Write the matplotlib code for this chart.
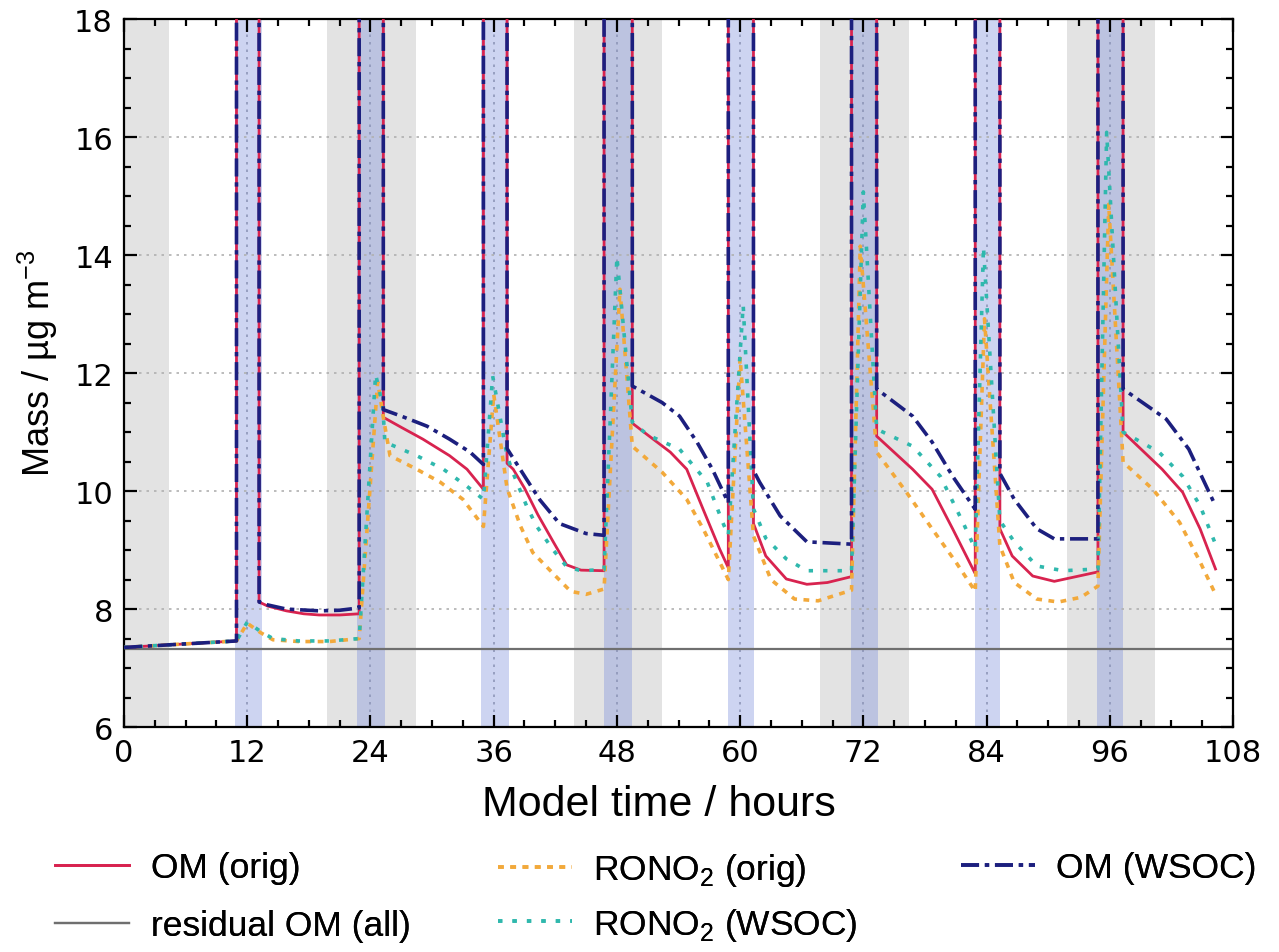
"""Organic mass time series with photolysis / night shading (recreated figure)."""
import matplotlib

matplotlib.use("Agg")
import matplotlib.pyplot as plt
from matplotlib.ticker import MultipleLocator

# ---------------------------------------------------------------------------
# Data. OFF = value beyond the top of the axis
# (the vertical spikes that leave the plot during each event).
# ---------------------------------------------------------------------------
OFF = 40.0

T_OM_ORIG = [0, 10.95, 10.95, 13.15, 13.15, 14.0, 15.8, 17.5, 19.0, 21.0, 22.9,
             22.9, 25.25, 25.25, 27.0, 29.1, 31.7, 33.4, 35.0,
             35.0, 37.3, 37.3, 37.9, 39.0, 40.3, 41.8, 43.1, 44.5, 46.75,
             46.75, 49.5, 49.5, 51.0, 53.2, 54.8, 56.4, 58.0, 58.85,
             58.85, 61.3, 61.3, 62.5, 64.5, 66.5, 68.5, 70.85,
             70.85, 73.3, 73.3, 76.8, 78.7, 80.7, 82.9,
             82.9, 85.3, 85.3, 86.5, 88.5, 90.6, 94.85,
             94.85, 97.3, 97.3, 101.1, 103.1, 104.8, 106.3]
OM_ORIG = [7.35, 7.46, OFF, OFF, 8.12, 8.05, 7.97, 7.92, 7.9, 7.9, 7.92,
           OFF, OFF, 11.25, 11.08, 10.88, 10.6, 10.37, 10.03,
           OFF, OFF, 10.47, 10.37, 10.05, 9.6, 9.14, 8.75, 8.66, 8.65,
           OFF, OFF, 11.15, 10.95, 10.66, 10.37, 9.69, 9.02, 8.7,
           OFF, OFF, 9.45, 8.9, 8.51, 8.42, 8.45, 8.55,
           OFF, OFF, 10.93, 10.37, 10.03, 9.36, 8.6,
           OFF, OFF, 9.36, 8.9, 8.56, 8.47, 8.63,
           OFF, OFF, 11.0, 10.37, 9.98, 9.36, 8.68]

T_OM_WSOC = [0, 10.95, 10.95, 13.15, 13.15, 14.0, 15.8, 19.0, 21.0, 22.9,
             22.9, 25.25, 25.25, 27.0, 29.5, 31.7, 33.7, 35.0,
             35.0, 37.3, 37.3, 39.2, 40.5, 42.4, 45.0, 46.75,
             46.75, 49.5, 49.5, 52.4, 54.1, 55.8, 57.3, 58.85,
             58.85, 61.3, 61.3, 61.9, 63.9, 66.5, 70.85,
             70.85, 73.3, 73.3, 76.8, 78.7, 80.7, 82.9,
             82.9, 85.3, 85.3, 86.7, 88.9, 90.6, 94.85,
             94.85, 97.3, 97.3, 101.5, 103.7, 106.3]
OM_WSOC = [7.35, 7.46, OFF, OFF, 8.12, 8.07, 8.0, 7.97, 7.98, 8.02,
           OFF, OFF, 11.38, 11.27, 11.1, 10.88, 10.66, 10.45,
           OFF, OFF, 10.72, 10.2, 9.85, 9.45, 9.28, 9.25,
           OFF, OFF, 11.78, 11.5, 11.27, 10.83, 10.37, 9.8,
           OFF, OFF, 10.35, 10.15, 9.58, 9.14, 9.1,
           OFF, OFF, 11.73, 11.27, 10.83, 10.25, 9.69,
           OFF, OFF, 10.3, 9.86, 9.36, 9.19, 9.19,
           OFF, OFF, 11.73, 11.22, 10.71, 9.75]

T_RONO2_ORIG = [0, 10.95, 12.0, 13.3, 14.5, 17.0, 20.0, 22.9,
                24.7, 25.3, 25.9, 28.5, 30.8, 33.0, 35.0,
                36.0, 37.3, 38.6, 39.8, 41.8, 43.5, 45.0, 46.75,
                48.3, 49.5, 52.4, 54.8, 56.4, 58.0, 58.85,
                60.0, 61.3, 63.0, 65.3, 67.6, 70.85,
                71.7, 73.3, 76.2, 78.7, 81.0, 82.9,
                83.8, 85.3, 86.7, 88.9, 91.0, 93.2, 94.85,
                95.9, 97.3, 100.2, 102.8, 104.8, 106.3]
RONO2_ORIG = [7.35, 7.46, 7.76, 7.6, 7.48, 7.45, 7.45, 7.5,
              11.85, 11.2, 10.6, 10.37, 10.15, 9.86, 9.4,
              11.64, 10.05, 9.41, 8.96, 8.6, 8.3, 8.25, 8.34,
              13.42, 10.76, 10.32, 9.86, 9.36, 8.8, 8.5,
              12.25, 9.24, 8.5, 8.17, 8.14, 8.32,
              14.15, 10.66, 9.98, 9.36, 8.8, 8.3,
              12.92, 9.07, 8.45, 8.17, 8.12, 8.2, 8.39,
              14.86, 10.49, 10.03, 9.47, 8.8, 8.25]

T_RONO2_WSOC = [0, 10.95, 12.0, 13.3, 14.5, 17.0, 20.0, 22.9,
                24.5, 25.2, 25.4, 28.5, 31.1, 33.4, 35.0,
                35.9, 37.3, 37.9, 39.2, 40.2, 41.8, 43.1, 44.5, 46.75,
                48.0, 49.5, 51.0, 54.1, 56.8, 58.3, 58.85,
                60.3, 61.3, 62.5, 64.5, 66.5, 70.85,
                72.0, 73.3, 76.8, 79.5, 81.7, 82.9,
                83.7, 85.3, 86.7, 88.9, 91.5, 94.85,
                95.7, 97.3, 100.8, 103.1, 104.8, 106.3]
RONO2_WSOC = [7.35, 7.46, 7.78, 7.62, 7.5, 7.46, 7.46, 7.5,
              11.98, 11.45, 10.83, 10.6, 10.37, 10.08, 9.86,
              11.95, 10.6, 10.3, 9.75, 9.4, 9.0, 8.72, 8.65, 8.67,
              13.97, 11.17, 10.95, 10.71, 10.15, 9.47, 9.25,
              13.15, 9.7, 9.2, 8.85, 8.65, 8.65,
              15.07, 11.05, 10.76, 10.25, 9.47, 9.02,
              14.14, 9.5, 9.14, 8.73, 8.65, 8.68,
              16.08, 11.0, 10.66, 10.25, 9.75, 9.1]

T_RESIDUAL = [0, 108]
RESIDUAL = [7.33, 7.33]

# shaded periods (hours)
NIGHT_SPANS = [(0, 4.4), (19.8, 28.4), (43.8, 52.4), (67.8, 76.4), (91.8, 100.4)]
EVENT_SPANS = [(10.8, 13.4), (22.7, 25.4), (34.8, 37.5), (46.7, 49.5),
               (58.8, 61.4), (70.8, 73.4), (82.9, 85.3), (94.8, 97.3)]
EVENT_CENTRES = [12, 24, 36, 48, 60, 72, 84, 96]

X_TICKS = list(range(0, 109, 12))
Y_TICKS = list(range(6, 19, 2))

COLOR_OM_ORIG = "#d8234f"
COLOR_RESIDUAL = "#6f6f6f"
COLOR_RONO2_ORIG = "#f2a93b"
COLOR_RONO2_WSOC = "#2fb8ad"
COLOR_OM_WSOC = "#1c1f7e"

LABEL_FONT = "Liberation Sans"
TICK_FONT = "DejaVu Sans"

fig = plt.figure(figsize=(12.79, 9.53), dpi=100)
ax = fig.add_axes([0.097, 0.236, 0.867, 0.743])

for a, b in NIGHT_SPANS:
    ax.axvspan(a, b, color="#e3e3e3", lw=0, zorder=0)
for a, b in EVENT_SPANS:
    ax.axvspan(a, b, color="#7d8fdc", alpha=0.38, lw=0, zorder=0.5)
for c in EVENT_CENTRES:
    ax.axvline(c, color="#8e96b8", lw=1.2, ls=(0, (1.5, 3)), zorder=0.6)

ax.grid(axis="y", color="#b0b0b0", lw=1.2, ls=(0, (1.5, 3)), zorder=0.7)

ax.plot(T_OM_ORIG, OM_ORIG, color=COLOR_OM_ORIG, lw=2.0, label="OM (orig)", zorder=3)
ax.plot(T_RESIDUAL, RESIDUAL, color=COLOR_RESIDUAL, lw=1.6,
        label="residual OM (all)", zorder=2)
ax.plot(T_RONO2_ORIG, RONO2_ORIG, color=COLOR_RONO2_ORIG, lw=2.6,
        ls=(0, (1.6, 1.8)), label=r"RONO$_\mathregular{2}$ (orig)", zorder=4)
ax.plot(T_RONO2_WSOC, RONO2_WSOC, color=COLOR_RONO2_WSOC, lw=2.6,
        ls=(0, (1.2, 2.8)), label=r"RONO$_\mathregular{2}$ (WSOC)", zorder=5)
ax.plot(T_OM_WSOC, OM_WSOC, color=COLOR_OM_WSOC, lw=2.6,
        ls=(0, (5, 1.6, 1.2, 1.6)), label="OM (WSOC)", zorder=6)

ax.set_xlim(0, 108)
ax.set_ylim(6, 18)
ax.set_xticks(X_TICKS)
ax.set_yticks(Y_TICKS)
ax.xaxis.set_minor_locator(MultipleLocator(3))
ax.yaxis.set_minor_locator(MultipleLocator(0.5))
ax.tick_params(which="both", direction="in", top=True, right=True, width=1.6)
ax.tick_params(which="major", length=9, labelsize=22, pad=8)
ax.tick_params(which="minor", length=5)
for lab in ax.get_xticklabels() + ax.get_yticklabels():
    lab.set_fontfamily(TICK_FONT)
for s in ax.spines.values():
    s.set_linewidth(1.6)

ax.set_xlabel("Model time / hours", fontsize=31, family=LABEL_FONT, labelpad=12)
ax.xaxis.label.set_x(0.482)
ax.set_ylabel(r"Mass / µg m$^\mathregular{-3}$", fontsize=26, family=LABEL_FONT,
              labelpad=10)
ax.yaxis.label.set_y(0.515)

# legend: three columns placed separately so their x positions match
handles, labels = ax.get_legend_handles_labels()
legend_kw = dict(loc="upper left", frameon=False,
                 prop={"family": LABEL_FONT, "size": 25.5},
                 handlelength=2.1, handletextpad=0.6,
                 borderpad=0, borderaxespad=0)
columns = [([0, 1], 0.043, 0.72), ([2, 3], 0.389, 0.5), ([4], 0.751, 0.7)]
for idx, x0, spacing in columns:
    leg = fig.legend([handles[i] for i in idx], [labels[i] for i in idx],
                     bbox_to_anchor=(x0, 0.106), labelspacing=spacing, **legend_kw)
    fig.add_artist(leg)

fig.savefig("out.png", dpi=100, facecolor="white")
